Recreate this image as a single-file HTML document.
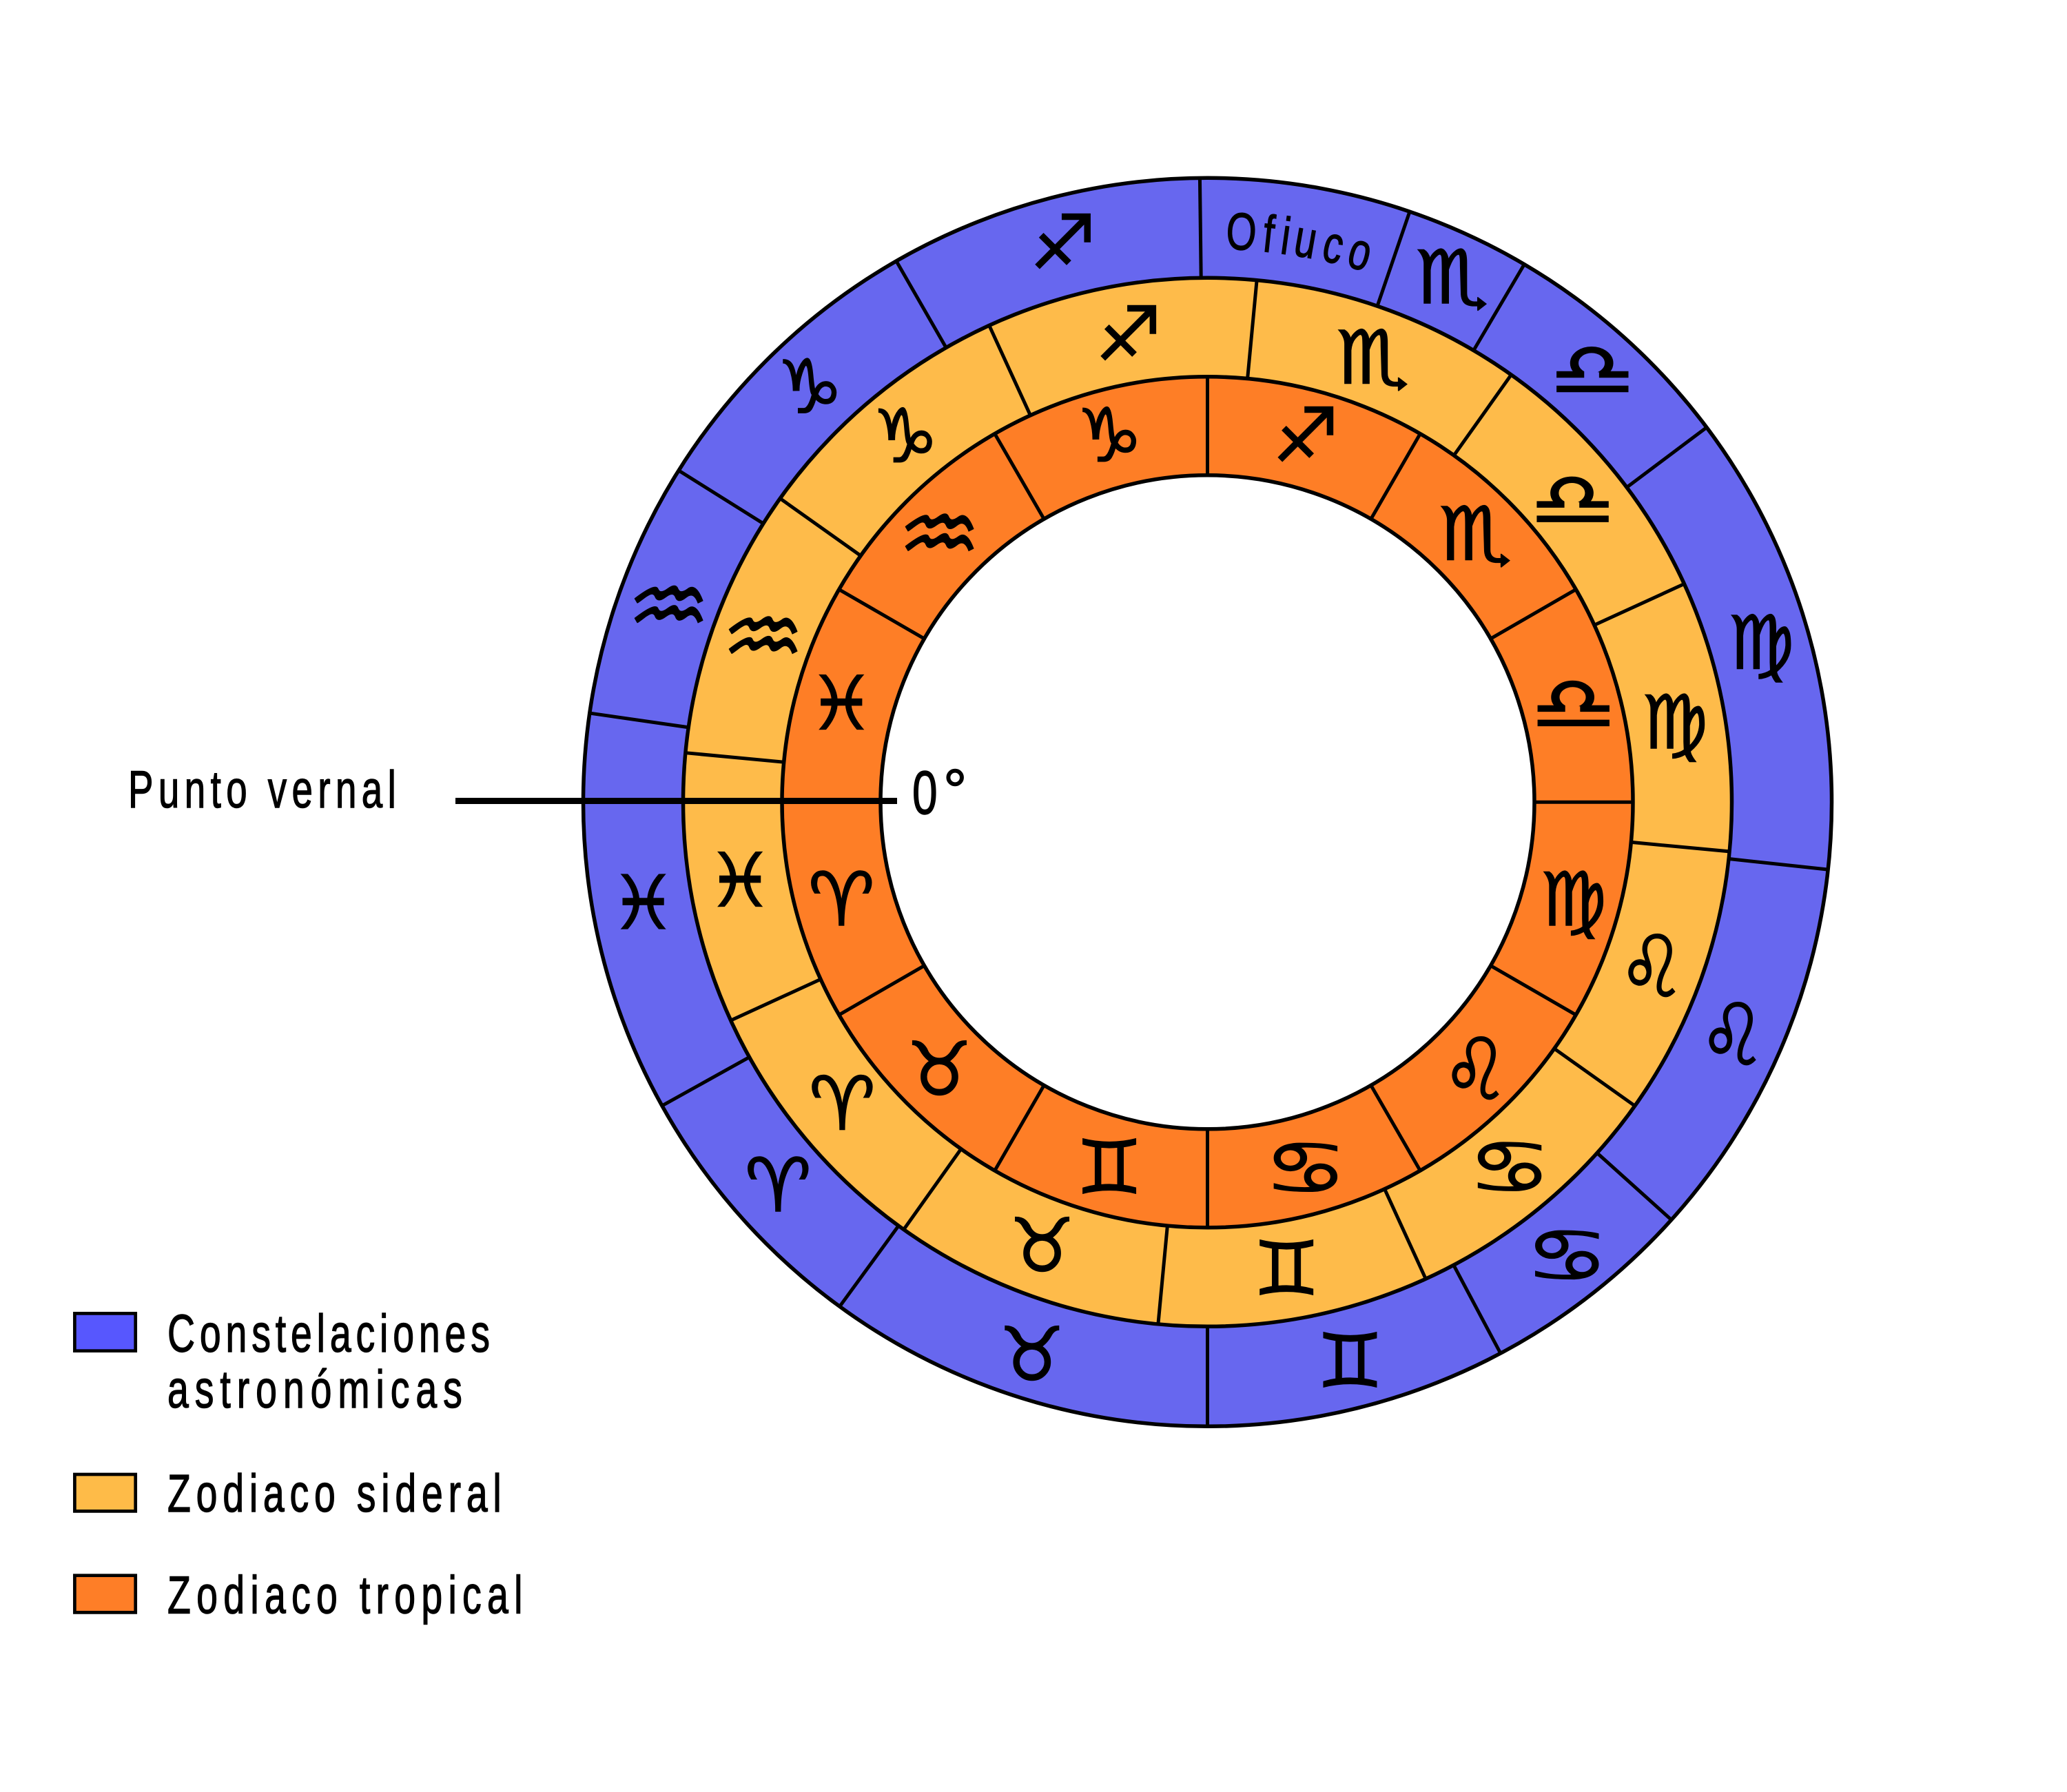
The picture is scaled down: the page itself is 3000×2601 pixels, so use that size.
<!DOCTYPE html>
<html>
<head>
<meta charset="utf-8">
<style>
  html, body { margin: 0; padding: 0; background: #ffffff; }
  svg { display: block; }
  .g { font-family: "DejaVu Sans", sans-serif; font-size: 108px; text-anchor: middle; dominant-baseline: central; fill: #000; stroke: #000; stroke-width: 1.5; }
  .t { font-family: "Liberation Sans", sans-serif; font-size: 76px; fill: #000; stroke: #000; stroke-width: 1.4; }
  .of { font-family: "Liberation Sans", sans-serif; font-size: 76px; fill: #000; stroke: #000; stroke-width: 1.4; text-anchor: middle; }
</style>
</head>
<body>
<svg width="3000" height="2601" viewBox="0 0 3000 2601" xmlns="http://www.w3.org/2000/svg">
  <rect x="0" y="0" width="3000" height="2601" fill="#ffffff"/>

  <g transform="translate(1752.5,1164.3)">
    <!-- ring fills -->
    <circle cx="0" cy="0" r="906" fill="#6767EF"/>
    <circle cx="0" cy="0" r="761" fill="#FEBB4A"/>
    <circle cx="0" cy="0" r="617.5" fill="#FE7E26"/>
    <circle cx="0" cy="0" r="474.5" fill="#ffffff"/>

    <!-- ring outlines -->
    <g fill="none" stroke="#000" stroke-width="5.5">
      <circle cx="0" cy="0" r="906"/>
      <circle cx="0" cy="0" r="761"/>
      <circle cx="0" cy="0" r="617.5"/>
      <circle cx="0" cy="0" r="474.5"/>
    </g>

    <!-- constellation boundaries (blue ring) -->
    <g stroke="#000" stroke-width="5">
      <line x1="761" y1="0" x2="906" y2="0" transform="rotate(-90.7)"/>
      <line x1="761" y1="0" x2="906" y2="0" transform="rotate(-71.1)"/>
      <line x1="761" y1="0" x2="906" y2="0" transform="rotate(-59.5)"/>
      <line x1="761" y1="0" x2="906" y2="0" transform="rotate(-36.9)"/>
      <line x1="761" y1="0" x2="906" y2="0" transform="rotate(-353.8)"/>
      <line x1="761" y1="0" x2="906" y2="0" transform="rotate(-318.0)"/>
      <line x1="761" y1="0" x2="906" y2="0" transform="rotate(-298.0)"/>
      <line x1="761" y1="0" x2="906" y2="0" transform="rotate(-270)"/>
      <line x1="761" y1="0" x2="906" y2="0" transform="rotate(-233.9)"/>
      <line x1="761" y1="0" x2="906" y2="0" transform="rotate(-209.1)"/>
      <line x1="761" y1="0" x2="906" y2="0" transform="rotate(-171.8)"/>
      <line x1="761" y1="0" x2="906" y2="0" transform="rotate(-147.9)"/>
      <line x1="761" y1="0" x2="906" y2="0" transform="rotate(-119.9)"/>
    </g>

    <!-- sidereal boundaries -->
    <g stroke="#000" stroke-width="5">
      <line x1="617.5" y1="0" x2="761" y2="0" transform="rotate(-24.6)"/>
      <line x1="617.5" y1="0" x2="761" y2="0" transform="rotate(-54.6)"/>
      <line x1="617.5" y1="0" x2="761" y2="0" transform="rotate(-84.6)"/>
      <line x1="617.5" y1="0" x2="761" y2="0" transform="rotate(-114.6)"/>
      <line x1="617.5" y1="0" x2="761" y2="0" transform="rotate(-144.6)"/>
      <line x1="617.5" y1="0" x2="761" y2="0" transform="rotate(-174.6)"/>
      <line x1="617.5" y1="0" x2="761" y2="0" transform="rotate(-204.6)"/>
      <line x1="617.5" y1="0" x2="761" y2="0" transform="rotate(-234.6)"/>
      <line x1="617.5" y1="0" x2="761" y2="0" transform="rotate(-264.6)"/>
      <line x1="617.5" y1="0" x2="761" y2="0" transform="rotate(-294.6)"/>
      <line x1="617.5" y1="0" x2="761" y2="0" transform="rotate(-324.6)"/>
      <line x1="617.5" y1="0" x2="761" y2="0" transform="rotate(-354.6)"/>
    </g>

    <!-- tropical boundaries -->
    <g stroke="#000" stroke-width="5">
      <line x1="474.5" y1="0" x2="617.5" y2="0" transform="rotate(0)"/>
      <line x1="474.5" y1="0" x2="617.5" y2="0" transform="rotate(-30)"/>
      <line x1="474.5" y1="0" x2="617.5" y2="0" transform="rotate(-60)"/>
      <line x1="474.5" y1="0" x2="617.5" y2="0" transform="rotate(-90)"/>
      <line x1="474.5" y1="0" x2="617.5" y2="0" transform="rotate(-120)"/>
      <line x1="474.5" y1="0" x2="617.5" y2="0" transform="rotate(-150)"/>
      <line x1="474.5" y1="0" x2="617.5" y2="0" transform="rotate(-180)"/>
      <line x1="474.5" y1="0" x2="617.5" y2="0" transform="rotate(-210)"/>
      <line x1="474.5" y1="0" x2="617.5" y2="0" transform="rotate(-240)"/>
      <line x1="474.5" y1="0" x2="617.5" y2="0" transform="rotate(-270)"/>
      <line x1="474.5" y1="0" x2="617.5" y2="0" transform="rotate(-300)"/>
      <line x1="474.5" y1="0" x2="617.5" y2="0" transform="rotate(-330)"/>
    </g>

    <!-- tropical glyphs -->
    <g class="g">
      <text transform="rotate(-15) translate(550,0) rotate(15) scale(1.3,1)">♎</text>
      <text transform="rotate(-45) translate(550,0) rotate(45) scale(1.1,1)">♏</text>
      <text transform="rotate(-75) translate(550,0) rotate(75)">♐</text>
      <text transform="rotate(-105) translate(550,0) rotate(105)">♑</text>
      <text transform="rotate(-135) translate(550,0) rotate(135) scale(1.25,1.15)">♒</text>
      <text transform="rotate(-165) translate(550,0) rotate(165)">♓</text>
      <text transform="rotate(-195) translate(550,0) rotate(195)">♈</text>
      <text transform="rotate(-225) translate(550,0) rotate(225)">♉</text>
      <text transform="rotate(-255) translate(550,0) rotate(255)">♊</text>
      <text transform="rotate(-285) translate(550,0) rotate(285) scale(1.25,1)">♋</text>
      <text transform="rotate(-315) translate(550,0) rotate(315) scale(1,1.15)">♌</text>
      <text transform="rotate(-345) translate(550,0) rotate(345)">♍</text>
    </g>

    <!-- sidereal glyphs -->
    <g class="g">
      <text transform="rotate(-9.6) translate(688,0) rotate(9.6)">♍</text>
      <text transform="rotate(-39.6) translate(688,0) rotate(39.6) scale(1.3,1)">♎</text>
      <text transform="rotate(-69.6) translate(688,0) rotate(69.6) scale(1.1,1)">♏</text>
      <text transform="rotate(-99.6) translate(688,0) rotate(99.6)">♐</text>
      <text transform="rotate(-129.6) translate(688,0) rotate(129.6)">♑</text>
      <text transform="rotate(-159.6) translate(688,0) rotate(159.6) scale(1.25,1.15)">♒</text>
      <text transform="rotate(-189.6) translate(688,0) rotate(189.6)">♓</text>
      <text transform="rotate(-219.6) translate(688,0) rotate(219.6)">♈</text>
      <text transform="rotate(-249.6) translate(688,0) rotate(249.6)">♉</text>
      <text transform="rotate(-279.6) translate(688,0) rotate(279.6)">♊</text>
      <text transform="rotate(-309.6) translate(688,0) rotate(309.6) scale(1.25,1)">♋</text>
      <text transform="rotate(-339.6) translate(688,0) rotate(339.6) scale(1,1.15)">♌</text>
    </g>

    <!-- constellation glyphs -->
    <g class="g">
      <text transform="rotate(-104.5) translate(838,0) rotate(104.5)">♐</text>
      <text transform="rotate(-65) translate(840,0) rotate(65) scale(1.1,1)">♏</text>
      <text transform="rotate(-48.3) translate(840,0) rotate(48.3) scale(1.3,1)">♎</text>
      <text transform="rotate(-16) translate(836,0) rotate(16)">♍</text>
      <text transform="rotate(-336) translate(834,0) rotate(336) scale(1,1.15)">♌</text>
      <text transform="rotate(-308.4) translate(840,0) rotate(308.4) scale(1.25,1)">♋</text>
      <text transform="rotate(-284.3) translate(838,0) rotate(284.3)">♊</text>
      <text transform="rotate(-252.4) translate(842,0) rotate(252.4)">♉</text>
      <text transform="rotate(-221.8) translate(836,0) rotate(221.8)">♈</text>
      <text transform="rotate(-190.2) translate(832,0) rotate(190.2)">♓</text>
      <text transform="rotate(-160) translate(832,0) rotate(160) scale(1.25,1.15)">♒</text>
      <text transform="rotate(-133.8) translate(834,0) rotate(133.8)">♑</text>
    </g>

    <!-- Ofiuco curved label -->
    <g class="of">
      <text transform="rotate(-86.6) translate(803.5,0) rotate(90) scale(0.74,1)">O</text>
      <text transform="rotate(-83.84) translate(803.5,0) rotate(90) scale(0.74,1)">f</text>
      <text transform="rotate(-82.1) translate(803.5,0) rotate(90) scale(0.74,1)">i</text>
      <text transform="rotate(-80.08) translate(803.5,0) rotate(90) scale(0.74,1)">u</text>
      <text transform="rotate(-77.25) translate(803.5,0) rotate(90) scale(0.74,1)">c</text>
      <text transform="rotate(-74.48) translate(803.5,0) rotate(90) scale(0.74,1)">o</text>
    </g>
  </g>

  <!-- Punto vernal line -->
  <line x1="661" y1="1162.5" x2="1302" y2="1162.5" stroke="#000" stroke-width="9"/>
  <text class="t" transform="translate(186,1172) scale(0.72,1)" style="letter-spacing:10.3px">Punto vernal</text>
  <text class="t" transform="translate(1324,1181) scale(0.74,1)" style="font-size:89px">0</text>
  <text class="t" x="1369" y="1177" style="font-size:86px">°</text>

  <!-- Legend -->
  <rect x="108.4" y="1906.4" width="88.3" height="54.3" fill="#5757FE" stroke="#000" stroke-width="4.7"/>
  <rect x="108.4" y="2140.0" width="88.3" height="53.4" fill="#FEBB48" stroke="#000" stroke-width="4.7"/>
  <rect x="108.4" y="2286.7" width="88.3" height="53.7" fill="#FE7E27" stroke="#000" stroke-width="4.7"/>

  <text class="t" transform="translate(243,1962) scale(0.72,1)" style="font-size:77px;letter-spacing:9.5px">Constelaciones</text>
  <text class="t" transform="translate(243,2043) scale(0.72,1)" style="font-size:77px;letter-spacing:12.4px">astronómicas</text>
  <text class="t" transform="translate(243,2194) scale(0.72,1)" style="font-size:77px;letter-spacing:10.8px">Zodiaco sideral</text>
  <text class="t" transform="translate(243,2341.5) scale(0.72,1)" style="font-size:77px;letter-spacing:11.5px">Zodiaco tropical</text>
</svg>
</body>
</html>
